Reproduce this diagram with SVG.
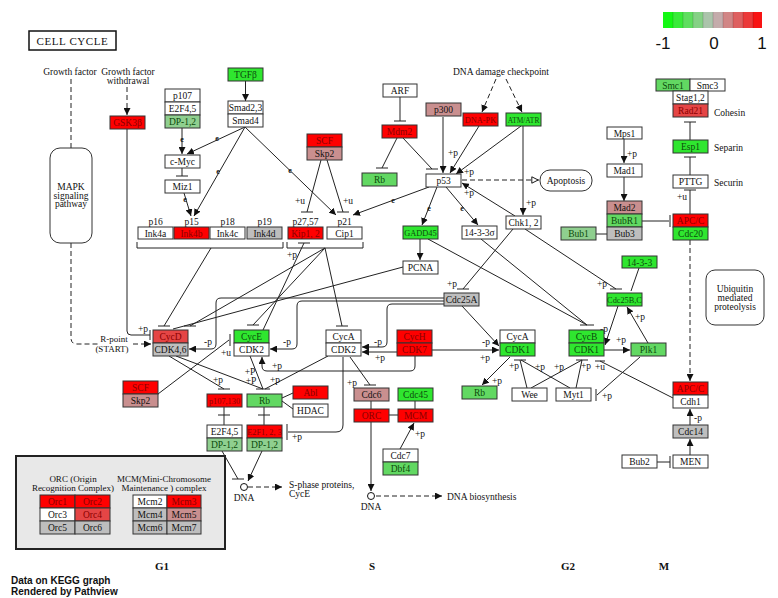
<svg xmlns="http://www.w3.org/2000/svg" width="778" height="598" viewBox="0 0 778 598">
<defs>
<marker id="ah" viewBox="0 0 10 10" refX="10" refY="5" markerWidth="7" markerHeight="7" markerUnits="userSpaceOnUse" orient="auto"><path d="M0,0 L10,5 L0,10 z" fill="#111"/></marker>
<marker id="oa" viewBox="0 0 10 10" refX="10" refY="5" markerWidth="8" markerHeight="8" markerUnits="userSpaceOnUse" orient="auto"><path d="M1,1 L9,5 L1,9 z" fill="#fff" stroke="#111" stroke-width="1.2"/></marker>
</defs>
<style>
text{font-family:"Liberation Serif","Times New Roman",serif;font-size:9.5px;fill:#111}
.c{text-anchor:middle}
.n rect{stroke:#333;stroke-width:1}
.w{fill:#fff}.r{fill:#ff0000}.r2{fill:#e54545}.pk{fill:#c98f8f}.gy{fill:#bebebe}.g1{fill:#2fe62f}.g2{fill:#62d862}.g3{fill:#8fcf8f}
text.tr{fill:#8a0000}text.tg{fill:#0c4a0c}
.s{font-size:8.3px}.xs{font-size:7.4px}
.cn path,.cn line{stroke:#222;stroke-width:1;fill:none}
.ar{marker-end:url(#ah)}
.d{stroke-dasharray:5 3}
text.ev{font-size:8px;font-weight:bold;fill:#111}
.ph{font-weight:bold;font-size:11px}
.sans{font-family:"Liberation Sans",Arial,sans-serif}
.rnd{fill:#fff;stroke:#333;stroke-width:1}
</style>
<rect width="778" height="598" fill="#fff"/>

<g id="title"><rect x="29" y="31" width="87" height="19" fill="#fff" stroke="#111" stroke-width="1.5"/><text class="c" x="72.5" y="45" style="font-size:11px;letter-spacing:0.6px">CELL CYCLE</text></g>

<g id="colorbar">
<rect x="663" y="12" width="10" height="16" fill="#13f813"/>
<rect x="673" y="12" width="10" height="16" fill="#39eb39"/>
<rect x="683" y="12" width="10" height="16" fill="#5fde5f"/>
<rect x="693" y="12" width="10" height="16" fill="#85d185"/>
<rect x="703" y="12" width="10" height="16" fill="#abc4ab"/>
<rect x="713" y="12" width="10" height="16" fill="#c4abab"/>
<rect x="723" y="12" width="10" height="16" fill="#d18585"/>
<rect x="733" y="12" width="10" height="16" fill="#de5f5f"/>
<rect x="743" y="12" width="10" height="16" fill="#eb3939"/>
<rect x="753" y="12" width="9" height="16" fill="#f81313"/>
<g stroke="#000" stroke-opacity="0.15"><line x1="673" y1="12" x2="673" y2="28"/><line x1="683" y1="12" x2="683" y2="28"/><line x1="693" y1="12" x2="693" y2="28"/><line x1="703" y1="12" x2="703" y2="28"/><line x1="713" y1="12" x2="713" y2="28"/><line x1="723" y1="12" x2="723" y2="28"/><line x1="733" y1="12" x2="733" y2="28"/><line x1="743" y1="12" x2="743" y2="28"/><line x1="753" y1="12" x2="753" y2="28"/></g>
<text class="c sans" x="663" y="49" style="font-size:17px">-1</text>
<text class="c sans" x="714" y="49" style="font-size:17px">0</text>
<text class="c sans" x="762" y="49" style="font-size:17px">1</text>
</g>

<g id="free-labels">
<text class="c" x="70" y="75">Growth factor</text>
<text class="c" x="128" y="75">Growth factor</text>
<text class="c" x="128" y="84">withdrawal</text>
<text class="c" x="501" y="75">DNA damage checkpoint</text>
<text x="714" y="116">Cohesin</text>
<text x="714" y="151">Separin</text>
<text x="714" y="186">Securin</text>
<text class="c" x="114" y="342" style="font-size:9px">R-point</text>
<text class="c" x="112" y="351.5" style="font-size:9px">(START)</text>
<text class="c" x="155.5" y="225">p16</text>
<text class="c" x="191.5" y="225">p15</text>
<text class="c" x="227.5" y="225">p18</text>
<text class="c" x="264.5" y="225">p19</text>
<text class="c" x="305.5" y="225">p27,57</text>
<text class="c" x="344.5" y="225">p21</text>
<text x="289" y="488">S-phase proteins,</text>
<text x="289" y="497">CycE</text>
<text class="c" x="244" y="501">DNA</text>
<text class="c" x="371" y="510">DNA</text>
<text x="447" y="500">DNA biosynthesis</text>
<text class="c ph" x="162" y="570">G1</text>
<text class="c ph" x="372" y="570">S</text>
<text class="c ph" x="568" y="570">G2</text>
<text class="c ph" x="664" y="570">M</text>
<text class="sans" x="11" y="584" style="font-size:10px;font-weight:bold">Data on KEGG graph</text>
<text class="sans" x="11" y="595" style="font-size:10px;font-weight:bold">Rendered by Pathview</text>
</g>

<g id="connectors" class="cn">
<path class="d" d="M71,79 V148"/>
<path class="d" d="M71,243 V338 Q71,344 77,344 H98"/>
<path class="d ar" d="M133,344 H151"/>
<path class="d ar" d="M127,87 V115"/>
<path d="M127,129 V331 Q127,335 131,335 H150"/>
<line x1="150" y1="330" x2="150" y2="340"/>
<path class="ar" d="M245.5,81 V101"/>
<path class="ar" d="M182,128 V154"/>
<path class="ar" d="M245,127 L187,154"/>
<path d="M182,168 V176"/><line x1="176" y1="176" x2="188" y2="176"/>
<path class="ar" d="M184,193 L191,216"/>
<path class="ar" d="M245,127 L194,216"/>
<path class="ar" d="M245,127 L336,215"/>
<path d="M321,160 L307,212"/><line x1="301" y1="212" x2="313" y2="212"/>
<path d="M327,160 L343,212"/><line x1="337" y1="212" x2="349" y2="212"/>
<path d="M400,97 V121"/><line x1="394" y1="121" x2="406" y2="121"/>
<path d="M397,138 L382,168"/><line x1="376" y1="168" x2="388" y2="168"/>
<path d="M403,138 L432,169"/><line x1="426" y1="169" x2="438" y2="169"/>
<path class="ar" d="M443,117 V173"/>
<path class="ar" d="M479,126 L450,173"/>
<path class="ar" d="M521,126 L456,174"/>
<path class="d ar" d="M496,79 L482,112"/>
<path class="d ar" d="M506,79 L522,112"/>
<path class="ar" d="M523,126 V215"/>
<path class="ar" d="M515,216 L462,183"/>
<path class="d" d="M462,180 H539" marker-end="url(#oa)"/>
<path class="ar" d="M437,187 L422,225"/>
<path class="ar" d="M446,187 L478,225"/>
<path class="ar" d="M429,187 L353,215"/>
<path class="ar" d="M420,239 V260"/>
<path d="M403,267 L173,329"/>
<path d="M137,242 V248 H283 V242"/>
<path d="M287,242 V248 H363 V242"/>
<path d="M211,248 L164,326"/><line x1="158" y1="326" x2="170" y2="326"/>
<path d="M325,248 L190,326"/><line x1="184" y1="326" x2="196" y2="326"/>
<path d="M325,248 L253,325"/><line x1="247" y1="325" x2="259" y2="325"/>
<path d="M325,248 L342,326"/><line x1="336" y1="326" x2="348" y2="326"/>
<path d="M263,330 L304,243"/><line x1="298" y1="243" x2="310" y2="243"/>
<path class="ar" d="M444,298 H221 Q216,298 216,303 V344 Q216,349 211,349 H189"/>
<path class="ar" d="M444,301 H302 Q297,301 297,306 V344 Q297,349 292,349 H270"/>
<path class="ar" d="M444,304 H392 Q387,304 387,309 V342 Q387,347 382,347 H362"/>
<path class="ar" d="M462,306 L499,346"/>
<path class="ar" d="M397,352 H362"/>
<path class="ar" d="M432,350 H499"/>
<path class="ar" d="M415,356 V366 Q415,371 410,371 H267 Q262,371 262,366 V357"/>
<path d="M513,229 L463,289"/><line x1="457" y1="289" x2="469" y2="289"/>
<path d="M525,229 L616,289"/><line x1="610" y1="289" x2="622" y2="289"/>
<path d="M639,268 L631,291"/>
<path class="ar" d="M618,306 L605,345"/>
<path class="ar" d="M604,350 H630"/>
<path class="ar" d="M648,343 L627,307"/>
<path d="M428,239 L587,325"/>
<path d="M481,239 L587,325"/><line x1="580" y1="325" x2="594" y2="325"/>
<path d="M527,388 L520,360"/><path d="M531,388 L582,360"/><path d="M570,388 L521,360"/><path d="M576,388 L582,360"/>
<line x1="514" y1="360" x2="526" y2="360"/><line x1="576" y1="360" x2="588" y2="360"/>
<path d="M673,398 L600,361"/><line x1="595" y1="361" x2="605" y2="361"/>
<path d="M640,357 L597,395"/><line x1="596" y1="389" x2="596" y2="401"/>
<path class="ar" d="M510,357 L482,385"/>
<path d="M641,221 H669"/><line x1="670" y1="215" x2="670" y2="227"/>
<path d="M596,234 H607"/>
<path class="ar" d="M624,139 V163"/>
<path class="ar" d="M624,177 V201"/>
<path d="M690,140 V122"/><line x1="684" y1="122" x2="696" y2="122"/>
<path d="M690,175 V157"/><line x1="684" y1="157" x2="696" y2="157"/>
<path d="M690,214 V190"/><line x1="684" y1="190" x2="696" y2="190"/>
<path class="d ar" d="M690,240 V381"/>
<path class="ar" d="M690,425 V409"/>
<path class="ar" d="M690,455 V439"/>
<path d="M657,462 H670"/><line x1="670" y1="456" x2="670" y2="468"/>
<path d="M158,394 L229,340"/><line x1="230" y1="334" x2="230" y2="346"/>
<path d="M169,356 L224,389"/><line x1="218" y1="389" x2="230" y2="389"/>
<path d="M176,356 L263,389"/><line x1="256" y1="389" x2="270" y2="389"/>
<path d="M250,356 L263,389"/>
<path d="M328,356 L265,389"/>
<path d="M224,407 V425"/><line x1="218" y1="415" x2="230" y2="415"/>
<path d="M264,407 V425"/><line x1="258" y1="415" x2="270" y2="415"/>
<path d="M282,398 L293,393"/>
<path d="M282,401 L293,409"/>
<path d="M222,451 L238,479"/><line x1="232" y1="479" x2="244" y2="479"/>
<path class="ar" d="M262,451 L248,481"/>
<path class="d ar" d="M248,487 H282"/>
<path d="M343,357 V425 Q343,432 336,432 H288"/><line x1="287" y1="424" x2="287" y2="440"/>
<path d="M350,357 L370,385"/><line x1="364" y1="385" x2="376" y2="385"/>
<path d="M371,401 V409"/>
<path d="M415,401 V409"/>
<path d="M388,415 H398"/>
<path class="ar" d="M400,449 L414,423"/>
<path class="ar" d="M371,422 V491"/>
<path class="d ar" d="M376,496 H442"/>
<circle cx="244" cy="487" r="3.5" fill="#fff" stroke="#111"/>
<circle cx="371" cy="496" r="3.5" fill="#fff" stroke="#111"/>
<g class="lbls">
<text class="c" x="143" y="332">+p</text>
<text class="c" x="208" y="345">-p</text>
<text class="c" x="226" y="356">+u</text>
<text class="c" x="218" y="383">+p</text>
<text class="c" x="250" y="375">+P</text>
<text class="c" x="251" y="384">+P</text>
<text class="c" x="275" y="383">+p</text>
<text class="c" x="277" y="369">+p</text>
<text class="c" x="287" y="345">-p</text>
<text class="c" x="378" y="345">-p</text>
<text class="c" x="380" y="361">+p</text>
<text class="c" x="486" y="345">-p</text>
<text class="c" x="485" y="361">+p</text>
<text class="c" x="452" y="287">+p</text>
<text class="c" x="602" y="287">+p</text>
<text class="c" x="604" y="332">-p</text>
<text class="c" x="621" y="343">+p</text>
<text class="c" x="640" y="320">+p</text>
<text class="c" x="514" y="369">+p</text>
<text class="c" x="540" y="370">+p</text>
<text class="c" x="559" y="370">+p</text>
<text class="c" x="586" y="369">+p</text>
<text class="c" x="600" y="370">+u</text>
<text class="c" x="497" y="384">+p</text>
<text class="c" x="607" y="399">+p</text>
<text class="c" x="682" y="200">+u</text>
<text class="c" x="632" y="157">+p</text>
<text class="c" x="698" y="421">-p</text>
<text class="c" x="420" y="437">+p</text>
<text class="c" x="297" y="440">+p</text>
<text class="c" x="352" y="386">+p</text>
<text class="c" x="300" y="204">+u</text>
<text class="c" x="348" y="204">+u</text>
<text class="c" x="292" y="258">+p</text>
<text class="c" x="453" y="156">+p</text>
<text class="c" x="469" y="175">+p</text>
<text class="c" x="469" y="196">+p</text>
<text class="c" x="531" y="206">+p</text>
<text class="c ev" x="182" y="142">e</text>
<text class="c ev" x="217" y="141">e</text>
<text class="c ev" x="185" y="202">e</text>
<text class="c ev" x="218" y="174">e</text>
<text class="c ev" x="290" y="173">e</text>
<text class="c ev" x="393" y="203">e</text>
<text class="c ev" x="429" y="211">e</text>
<text class="c ev" x="462" y="211">e</text>
</g>
</g>

<g id="MAPK"><rect class="rnd" x="50" y="148" width="42" height="95" rx="10"/><text class="c" x="71" y="190">MAPK</text><text class="c" x="71" y="198.5">signaling</text><text class="c" x="71" y="207">pathway</text></g>
<g id="Apoptosis"><rect class="rnd" x="540" y="170" width="52" height="21" rx="10"/><text class="c" x="566" y="184">Apoptosis</text></g>
<g id="Ubiquitin"><rect class="rnd" x="706" y="270" width="58" height="55" rx="9"/><text class="c" x="735" y="292">Ubiquitin</text><text class="c" x="735" y="301">mediated</text><text class="c" x="735" y="310">proteolysis</text></g>

<g id="GSK3b" class="n"><rect class="r" x="110" y="116" width="35" height="13"/><text class="c tr" x="127.5" y="126">GSK3β</text></g>
<g id="p107_E2F45_DP12" class="n"><rect class="w" x="165" y="89" width="35" height="13"/><text class="c" x="182.5" y="99">p107</text><rect class="w" x="165" y="102" width="35" height="13"/><text class="c" x="182.5" y="112">E2F4,5</text><rect class="g3" x="165" y="115" width="35" height="13"/><text class="c tg" x="182.5" y="125">DP-1,2</text></g>
<g id="TGFb" class="n"><rect class="g1" x="228" y="68" width="35" height="13"/><text class="c tg" x="245.5" y="78">TGFβ</text></g>
<g id="Smad" class="n"><rect class="w" x="228" y="101" width="35" height="13"/><text class="c" x="245.5" y="111">Smad2,3</text><rect class="w" x="228" y="114" width="35" height="13"/><text class="c" x="245.5" y="124">Smad4</text></g>
<g id="cMyc" class="n"><rect class="w" x="165" y="155" width="35" height="13"/><text class="c" x="182.5" y="165">c-Myc</text></g>
<g id="Miz1" class="n"><rect class="w" x="165" y="180" width="35" height="13"/><text class="c" x="182.5" y="190">Miz1</text></g>
<g id="Ink4" class="n"><rect class="w" x="138" y="227" width="35" height="12"/><text class="c" x="155.5" y="236.5">Ink4a</text><rect class="r" x="174" y="227" width="35" height="12"/><text class="c tr" x="191.5" y="236.5">Ink4b</text><rect class="w" x="210" y="227" width="35" height="12"/><text class="c" x="227.5" y="236.5">Ink4c</text><rect class="gy" x="247" y="227" width="35" height="12"/><text class="c" x="264.5" y="236.5">Ink4d</text></g>
<g id="SCF_Skp2_top" class="n"><rect class="r" x="307" y="134" width="35" height="13"/><text class="c tr" x="324.5" y="144">SCF</text><rect class="pk" x="307" y="147" width="35" height="13"/><text class="c" x="324.5" y="157">Skp2</text></g>
<g id="Kip_Cip" class="n"><rect class="r" x="288" y="227" width="35" height="12"/><text class="c tr" x="305.5" y="236.5">Kip1, 2</text><rect class="w" x="327" y="227" width="35" height="12"/><text class="c" x="344.5" y="236.5">Cip1</text></g>
<g id="ARF" class="n"><rect class="w" x="383" y="84" width="34" height="13"/><text class="c" x="400" y="94">ARF</text></g>
<g id="Mdm2" class="n"><rect class="r" x="382" y="125" width="35" height="13"/><text class="c tr" x="399.5" y="135">Mdm2</text></g>
<g id="p300" class="n"><rect class="pk" x="426" y="103" width="35" height="13"/><text class="c" x="443.5" y="113">p300</text></g>
<g id="DNAPK" class="n"><rect class="r" x="463" y="113" width="35" height="13"/><text class="c tr s" x="480.5" y="123">DNA-PK</text></g>
<g id="ATMATR" class="n"><rect class="g1" x="506" y="113" width="35" height="13"/><text class="c tg xs" x="523.5" y="122.5">ATM/ATR</text></g>
<g id="Rb_top" class="n"><rect class="g2" x="362" y="173" width="35" height="13"/><text class="c tg" x="379.5" y="183">Rb</text></g>
<g id="p53" class="n"><rect class="w" x="426" y="174" width="35" height="13"/><text class="c" x="443.5" y="184">p53</text></g>
<g id="GADD45" class="n"><rect class="g1" x="403" y="226" width="35" height="13"/><text class="c tg s" x="420.5" y="236">GADD45</text></g>
<g id="s1433sigma" class="n"><rect class="w" x="462" y="226" width="35" height="13"/><text class="c" x="479.5" y="236">14-3-3σ</text></g>
<g id="Chk12" class="n"><rect class="w" x="506" y="216" width="35" height="13"/><text class="c" x="523.5" y="226">Chk1, 2</text></g>
<g id="PCNA" class="n"><rect class="w" x="403" y="261" width="35" height="13"/><text class="c" x="420.5" y="271">PCNA</text></g>
<g id="Cohesin" class="n"><rect class="g2" x="656" y="79" width="34" height="12"/><text class="c tg" x="673" y="88.5">Smc1</text><rect class="w" x="690" y="79" width="35" height="12"/><text class="c" x="707.5" y="88.5">Smc3</text><rect class="w" x="673" y="91" width="35" height="13"/><text class="c" x="690.5" y="101">Stag1,2</text><rect class="r2" x="673" y="104" width="35" height="13"/><text class="c tr" x="690.5" y="114">Rad21</text></g>
<g id="Esp1" class="n"><rect class="g1" x="673" y="140" width="35" height="13"/><text class="c tg" x="690.5" y="150">Esp1</text></g>
<g id="PTTG" class="n"><rect class="w" x="673" y="175" width="35" height="13"/><text class="c" x="690.5" y="185">PTTG</text></g>
<g id="Mps1" class="n"><rect class="w" x="607" y="127" width="35" height="12"/><text class="c" x="624.5" y="136.5">Mps1</text></g>
<g id="Mad1" class="n"><rect class="w" x="607" y="164" width="35" height="13"/><text class="c" x="624.5" y="174">Mad1</text></g>
<g id="Mad2_BubR1_Bub3" class="n"><rect class="pk" x="607" y="201" width="35" height="13"/><text class="c" x="624.5" y="211">Mad2</text><rect class="g2" x="607" y="214" width="35" height="13"/><text class="c tg" x="624.5" y="224">BubR1</text><rect class="gy" x="607" y="227" width="35" height="13"/><text class="c" x="624.5" y="237">Bub3</text></g>
<g id="Bub1" class="n"><rect class="g3" x="561" y="227" width="35" height="13"/><text class="c tg" x="578.5" y="237">Bub1</text></g>
<g id="APCC_Cdc20" class="n"><rect class="r" x="673" y="214" width="35" height="13"/><text class="c tr" x="690.5" y="224">APC/C</text><rect class="g1" x="673" y="227" width="35" height="13"/><text class="c tg" x="690.5" y="237">Cdc20</text></g>
<g id="p1433" class="n"><rect class="g1" x="622" y="256" width="35" height="12"/><text class="c tg" x="639.5" y="265.5">14-3-3</text></g>
<g id="Cdc25BC" class="n"><rect class="g1" x="607" y="293" width="35" height="13"/><text class="c tg s" x="624.5" y="303">Cdc25B,C</text></g>
<g id="Cdc25A" class="n"><rect class="gy" x="444" y="293" width="35" height="13"/><text class="c" x="461.5" y="303">Cdc25A</text></g>
<g id="CycD_CDK46" class="n"><rect class="r2" x="153" y="330" width="35" height="13"/><text class="c tr" x="170.5" y="340">CycD</text><rect class="gy" x="153" y="343" width="35" height="13"/><text class="c" x="170.5" y="353">CDK4,6</text></g>
<g id="CycE_CDK2" class="n"><rect class="g1" x="234" y="330" width="35" height="13"/><text class="c tg" x="251.5" y="340">CycE</text><rect class="w" x="234" y="343" width="35" height="13"/><text class="c" x="251.5" y="353">CDK2</text></g>
<g id="CycA_CDK2" class="n"><rect class="w" x="326" y="330" width="35" height="13"/><text class="c" x="343.5" y="340">CycA</text><rect class="w" x="326" y="343" width="35" height="13"/><text class="c" x="343.5" y="353">CDK2</text></g>
<g id="CycH_CDK7" class="n"><rect class="r" x="397" y="330" width="35" height="13"/><text class="c tr" x="414.5" y="340">CycH</text><rect class="r" x="397" y="343" width="35" height="13"/><text class="c tr" x="414.5" y="353">CDK7</text></g>
<g id="CycA_CDK1" class="n"><rect class="w" x="500" y="330" width="35" height="13"/><text class="c" x="517.5" y="340">CycA</text><rect class="g1" x="500" y="343" width="35" height="13"/><text class="c tg" x="517.5" y="353">CDK1</text></g>
<g id="CycB_CDK1" class="n"><rect class="g1" x="569" y="330" width="35" height="13"/><text class="c tg" x="586.5" y="340">CycB</text><rect class="g1" x="569" y="343" width="35" height="13"/><text class="c tg" x="586.5" y="353">CDK1</text></g>
<g id="Plk1" class="n"><rect class="g2" x="631" y="343" width="35" height="13"/><text class="c tg" x="648.5" y="353">Plk1</text></g>
<g id="Wee" class="n"><rect class="w" x="512" y="388" width="35" height="13"/><text class="c" x="529.5" y="398">Wee</text></g>
<g id="Myt1" class="n"><rect class="w" x="556" y="388" width="35" height="13"/><text class="c" x="573.5" y="398">Myt1</text></g>
<g id="Rb_right" class="n"><rect class="g2" x="462" y="386" width="35" height="13"/><text class="c tg" x="479.5" y="396">Rb</text></g>
<g id="APCC_Cdh1" class="n"><rect class="r" x="673" y="382" width="35" height="13"/><text class="c tr" x="690.5" y="392">APC/C</text><rect class="w" x="673" y="395" width="35" height="13"/><text class="c" x="690.5" y="405">Cdh1</text></g>
<g id="Cdc14" class="n"><rect class="gy" x="673" y="425" width="35" height="13"/><text class="c" x="690.5" y="435">Cdc14</text></g>
<g id="MEN" class="n"><rect class="w" x="673" y="455" width="35" height="13"/><text class="c" x="690.5" y="465">MEN</text></g>
<g id="Bub2" class="n"><rect class="w" x="622" y="455" width="35" height="13"/><text class="c" x="639.5" y="465">Bub2</text></g>
<g id="SCF_Skp2_low" class="n"><rect class="r" x="123" y="381" width="35" height="13"/><text class="c tr" x="140.5" y="391">SCF</text><rect class="pk" x="123" y="394" width="35" height="13"/><text class="c" x="140.5" y="404">Skp2</text></g>
<g id="p107_130" class="n"><rect class="r" x="207" y="394" width="35" height="13"/><text class="c tr s" x="224.5" y="404">p107,130</text></g>
<g id="Rb_low" class="n"><rect class="g2" x="247" y="394" width="35" height="13"/><text class="c tg" x="264.5" y="404">Rb</text></g>
<g id="Abl" class="n"><rect class="r" x="293" y="386" width="35" height="13"/><text class="c tr" x="310.5" y="396">Abl</text></g>
<g id="HDAC" class="n"><rect class="w" x="293" y="404" width="35" height="13"/><text class="c" x="310.5" y="414">HDAC</text></g>
<g id="E2F45_DP12" class="n"><rect class="w" x="207" y="425" width="35" height="13"/><text class="c" x="224.5" y="435">E2F4,5</text><rect class="g3" x="207" y="438" width="35" height="13"/><text class="c tg" x="224.5" y="448">DP-1,2</text></g>
<g id="E2F123_DP12" class="n"><rect class="r" x="247" y="425" width="35" height="13"/><text class="c tr s" x="264.5" y="435">E2F1, 2, 3</text><rect class="g3" x="247" y="438" width="35" height="13"/><text class="c tg" x="264.5" y="448">DP-1,2</text></g>
<g id="Cdc6" class="n"><rect class="pk" x="354" y="388" width="35" height="13"/><text class="c" x="371.5" y="398">Cdc6</text></g>
<g id="Cdc45" class="n"><rect class="g1" x="398" y="388" width="35" height="13"/><text class="c tg" x="415.5" y="398">Cdc45</text></g>
<g id="ORC" class="n"><rect class="r" x="354" y="409" width="35" height="13"/><text class="c tr" x="371.5" y="419">ORC</text></g>
<g id="MCM" class="n"><rect class="r" x="398" y="409" width="35" height="13"/><text class="c tr" x="415.5" y="419">MCM</text></g>
<g id="Cdc7_Dbf4" class="n"><rect class="w" x="383" y="449" width="35" height="13"/><text class="c" x="400.5" y="459">Cdc7</text><rect class="g2" x="383" y="462" width="35" height="13"/><text class="c tg" x="400.5" y="472">Dbf4</text></g>

<g id="legend">
<rect x="16" y="456" width="209" height="93" fill="#e8e8e8" stroke="#222" stroke-width="2"/>
<text class="c" x="73" y="482" style="font-size:9px">ORC (Origin</text>
<text class="c" x="73" y="491" style="font-size:9px">Recognition Complex)</text>
<text class="c" x="164" y="482" style="font-size:9px">MCM(Mini-Chromosome</text>
<text class="c" x="164" y="491" style="font-size:9px">Maintenance ) complex</text>
<g class="n">
<rect class="r" x="40" y="495" width="35" height="13"/><text class="c tr" x="57.5" y="505">Orc1</text>
<rect class="r" x="75" y="495" width="35" height="13"/><text class="c tr" x="92.5" y="505">Orc2</text>
<rect class="w" x="40" y="508" width="35" height="13"/><text class="c" x="57.5" y="518">Orc3</text>
<rect class="r2" x="75" y="508" width="35" height="13"/><text class="c tr" x="92.5" y="518">Orc4</text>
<rect class="gy" x="40" y="521" width="35" height="13"/><text class="c" x="57.5" y="531">Orc5</text>
<rect class="gy" x="75" y="521" width="35" height="13"/><text class="c" x="92.5" y="531">Orc6</text>
<rect class="w" x="133" y="495" width="34" height="13"/><text class="c" x="150" y="505">Mcm2</text>
<rect class="r" x="167" y="495" width="34" height="13"/><text class="c tr" x="184" y="505">Mcm3</text>
<rect class="gy" x="133" y="508" width="34" height="13"/><text class="c" x="150" y="518">Mcm4</text>
<rect class="pk" x="167" y="508" width="34" height="13"/><text class="c" x="184" y="518">Mcm5</text>
<rect class="gy" x="133" y="521" width="34" height="13"/><text class="c" x="150" y="531">Mcm6</text>
<rect class="gy" x="167" y="521" width="34" height="13"/><text class="c" x="184" y="531">Mcm7</text>
</g>
</g>
</svg>
